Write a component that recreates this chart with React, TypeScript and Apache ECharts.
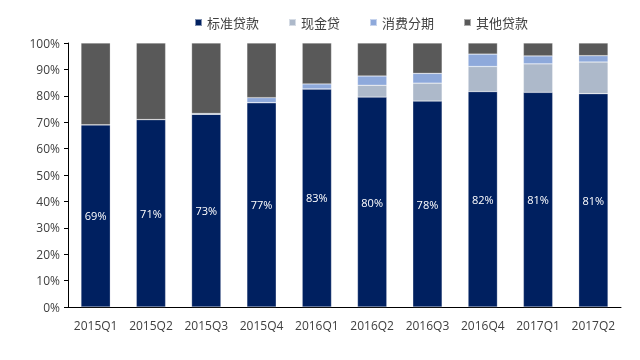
import React, { useEffect, useRef } from "react";
import * as echarts from "echarts";

const categories = ["2015Q1", "2015Q2", "2015Q3", "2015Q4", "2016Q1", "2016Q2", "2016Q3", "2016Q4", "2017Q1", "2017Q2"];
const standardLoans = [69, 71, 73, 77.4, 82.6, 79.5, 78, 81.6, 81.3, 80.8];
const cashLoans = [0, 0, 0, 0, 0, 4.5, 6.8, 9.5, 10.8, 12.0];
const consumerInstallments = [0, 0, 0.3, 1.9, 1.9, 3.5, 3.7, 4.7, 3.0, 2.4];
const otherLoans = standardLoans.map((v, i) => +(100 - v - cashLoans[i] - consumerInstallments[i]).toFixed(1));
const seriesNames = ["标准贷款", "现金贷", "消费分期", "其他贷款"];
const yTicks = [0, 10, 20, 30, 40, 50, 60, 70, 80, 90, 100];

const FONT = "'Open Sans', 'Noto Sans CJK SC', sans-serif";

export default function App() {
  const ref = useRef<HTMLDivElement>(null);
  useEffect(() => {
    if (!ref.current) return;
    const chart = echarts.init(ref.current, undefined, { renderer: "svg" });
    const colors = ["#002060", "#ADB9CA", "#8EA9DB", "#595959"];
    const data = [standardLoans, cashLoans, consumerInstallments, otherLoans];
    chart.setOption({
      animation: false,
      textStyle: { fontFamily: FONT },
      legend: {
        top: 11,
        left: 189,
        itemWidth: 7,
        itemHeight: 7,
        itemGap: 29,
        icon: "rect",
        textStyle: { fontSize: 13, color: "#404040", fontFamily: "'Noto Sans CJK SC', sans-serif" },
        data: seriesNames,
      },
      grid: { left: 68, right: 19, top: 43, bottom: 53 },
      xAxis: {
        type: "category",
        data: categories,
        axisLine: { lineStyle: { color: "#000", width: 1 } },
        axisTick: { show: false },
        axisLabel: { fontSize: 12, color: "#404040", margin: 12, interval: 0 },
      },
      yAxis: {
        type: "value",
        min: yTicks[0],
        max: yTicks[yTicks.length - 1],
        interval: 10,
        axisLine: { show: true, lineStyle: { color: "#000", width: 1 } },
        axisTick: { show: true, length: 4, lineStyle: { color: "#000" } },
        splitLine: { show: false },
        axisLabel: { fontSize: 12, color: "#404040", margin: 8, formatter: (v: number) => v + "%" },
      },
      series: seriesNames.map((name, i) => ({
        name,
        type: "bar",
        stack: "total",
        barWidth: "53%",
        data: data[i],
        itemStyle: { color: colors[i], borderColor: "rgba(255,255,255,0.5)", borderWidth: 0.5 },
        label:
          i === 0
            ? {
                show: true,
                position: "inside",
                color: "#fff",
                fontSize: 11,
                formatter: (p: any) => Math.round(p.value) + "%",
              }
            : { show: false },
      })),
    });
    return () => chart.dispose();
  }, []);
  return <div ref={ref} style={{ position: "fixed", left: 0, top: 0, width: 640, height: 360 }} />;
}
